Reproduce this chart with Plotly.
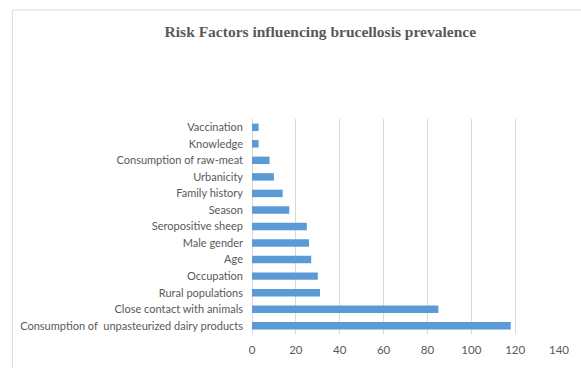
import plotly.graph_objects as go

categories = [
    "Consumption of \u00a0unpasteurized dairy products",
    "Close contact with animals",
    "Rural populations",
    "Occupation",
    "Age",
    "Male gender",
    "Seropositive sheep",
    "Season",
    "Family history",
    "Urbanicity",
    "Consumption of raw-meat",
    "Knowledge",
    "Vaccination",
]
values = [118, 85, 31, 30, 27, 26, 25, 17, 14, 10, 8, 3, 3]
x_ticks = [0, 20, 40, 60, 80, 100, 120, 140]

fig = go.Figure(go.Bar(
    x=values, y=categories, orientation="h",
    marker=dict(color="#5b9bd5", line=dict(width=0)),
    hoverinfo="x+y",
))

W, H = 581, 368
l, r, t, b = 252, 19, 119, 34
pw = W - l - r
ph = H - t - b
bx0 = (10 - l) / pw
by1 = 1 + (t - 10) / ph

fig.update_layout(
    width=W, height=H,
    margin=dict(l=l, r=r, t=t, b=b),
    paper_bgcolor="white", plot_bgcolor="white",
    bargap=0.55,
    showlegend=False,
    title=dict(
        text="<b>Risk Factors influencing brucellosis prevalence</b>",
        font=dict(family="Liberation Serif", size=15.5, color="#595959"),
        x=(321 - l) / pw, xref="paper", xanchor="center",
        y=1 - 32 / H, yanchor="middle",
    ),
    xaxis=dict(
        range=[0, 140], tickvals=x_ticks,
        showgrid=True, gridcolor="#d9d9d9", gridwidth=1,
        zeroline=True, zerolinecolor="#d9d9d9", zerolinewidth=1,
        showline=False, ticks="",
        tickfont=dict(family="Lato", size=11.5, color="#595959"),
        ticklabelstandoff=7,
        fixedrange=True,
    ),
    yaxis=dict(
        categoryorder="array", categoryarray=categories,
        showgrid=False, zeroline=False, showline=False, ticks="",
        tickfont=dict(family="Lato", size=11, color="#595959"),
        ticklabelstandoff=8,
        fixedrange=True,
    ),
    shapes=[dict(
        type="rect", xref="paper", yref="paper",
        x0=bx0, x1=1.2, y0=-0.3, y1=by1,
        line=dict(color="#d9d9d9", width=1), fillcolor="rgba(0,0,0,0)",
        layer="below",
    )],
)

fig.write_html("out.html")
